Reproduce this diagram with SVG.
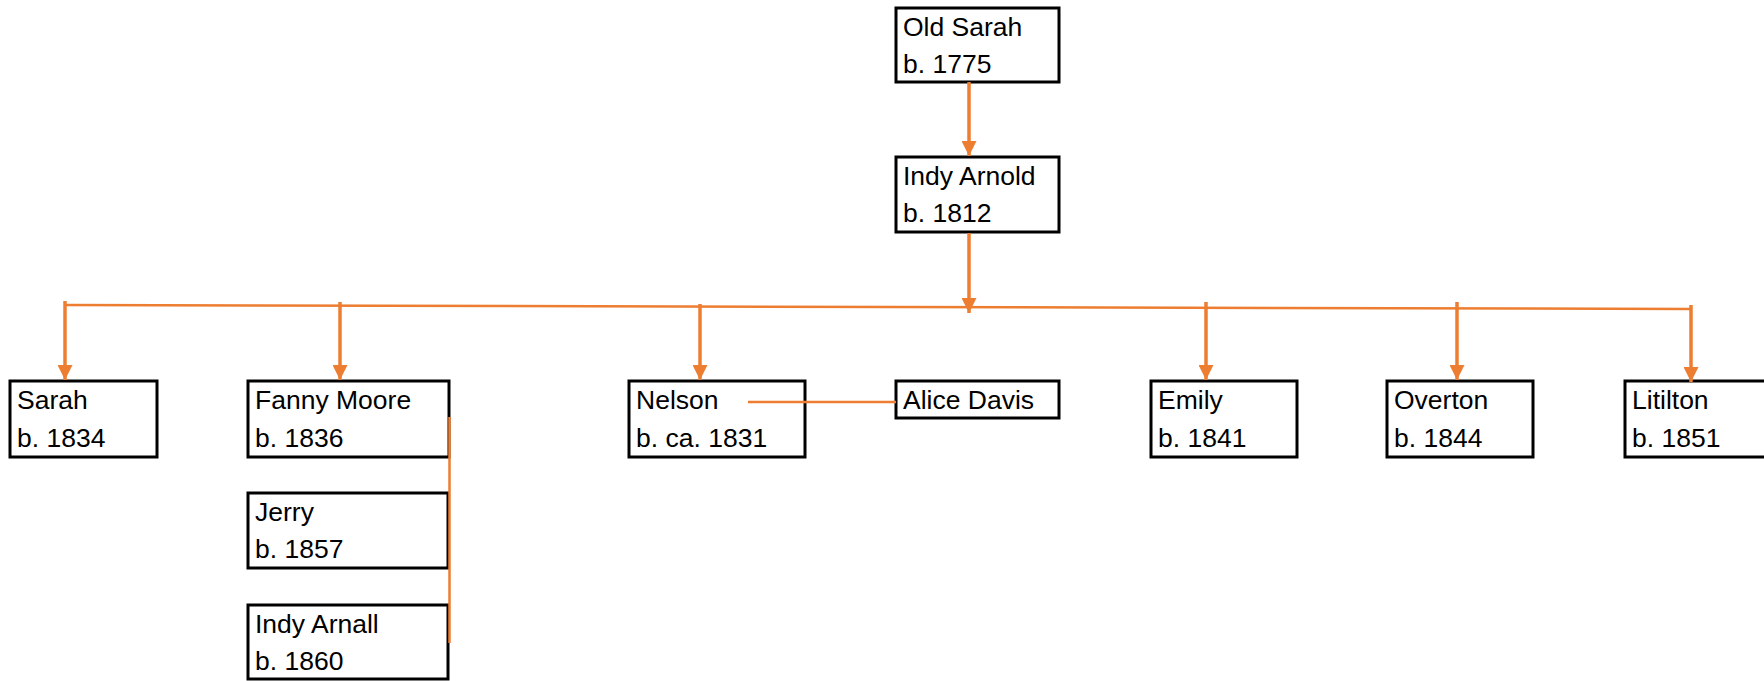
<svg xmlns="http://www.w3.org/2000/svg" width="1764" height="681" viewBox="0 0 1764 681">
<style>
.box{fill:#fff;stroke:#000;stroke-width:3}
.t{font-family:"Liberation Sans",Arial,sans-serif;font-size:26.5px;fill:#000}
.c{stroke:#ED7D31;fill:none}
.arr{stroke-width:3.5}
.ln{stroke-width:2.5}
</style>
<defs>
<marker id="ah" markerUnits="userSpaceOnUse" markerWidth="16" markerHeight="15" refX="15" refY="7.5" orient="auto">
<path d="M0,0 L15,7.5 L0,15 Z" fill="#ED7D31"/>
</marker>
</defs>
<g id="old-sarah"><rect class="box" x="896" y="8" width="163" height="74"/><text class="t" x="903" y="36">Old Sarah</text><text class="t" x="903" y="73">b. 1775</text></g>
<g id="indy-arnold"><rect class="box" x="896" y="157" width="163" height="75"/><text class="t" x="903" y="185">Indy Arnold</text><text class="t" x="903" y="222">b. 1812</text></g>
<g id="sarah"><rect class="box" x="10" y="381" width="147" height="76"/><text class="t" x="17" y="409">Sarah</text><text class="t" x="17" y="447">b. 1834</text></g>
<g id="fanny-moore"><rect class="box" x="248" y="381" width="201" height="76"/><text class="t" x="255" y="409">Fanny Moore</text><text class="t" x="255" y="447">b. 1836</text></g>
<g id="jerry"><rect class="box" x="248" y="493" width="200" height="75"/><text class="t" x="255" y="521">Jerry</text><text class="t" x="255" y="558">b. 1857</text></g>
<g id="indy-arnall"><rect class="box" x="248" y="605" width="200" height="74"/><text class="t" x="255" y="633">Indy Arnall</text><text class="t" x="255" y="670">b. 1860</text></g>
<g id="nelson"><rect class="box" x="629" y="381" width="176" height="76"/><text class="t" x="636" y="409">Nelson</text><text class="t" x="636" y="447">b. ca. 1831</text></g>
<g id="alice-davis"><rect class="box" x="896" y="381" width="163" height="37"/><text class="t" x="903" y="409">Alice Davis</text></g>
<g id="emily"><rect class="box" x="1151" y="381" width="146" height="76"/><text class="t" x="1158" y="409">Emily</text><text class="t" x="1158" y="447">b. 1841</text></g>
<g id="overton"><rect class="box" x="1387" y="381" width="146" height="76"/><text class="t" x="1394" y="409">Overton</text><text class="t" x="1394" y="447">b. 1844</text></g>
<g id="litilton"><rect class="box" x="1625" y="381" width="150" height="76"/><text class="t" x="1632" y="409">Litilton</text><text class="t" x="1632" y="447">b. 1851</text></g>
<g id="connectors">
<line class="c arr" x1="969" y1="82" x2="969" y2="156" marker-end="url(#ah)"/>
<line class="c arr" x1="969" y1="233" x2="969" y2="313" marker-end="url(#ah)"/>
<line class="c ln" x1="65" y1="305" x2="1691" y2="309"/>
<line class="c arr" x1="65" y1="301" x2="65" y2="380" marker-end="url(#ah)"/>
<line class="c arr" x1="340" y1="302" x2="340" y2="380" marker-end="url(#ah)"/>
<line class="c arr" x1="700" y1="304" x2="700" y2="380" marker-end="url(#ah)"/>
<line class="c arr" x1="1206" y1="302" x2="1206" y2="380" marker-end="url(#ah)"/>
<line class="c arr" x1="1457" y1="302" x2="1457" y2="380" marker-end="url(#ah)"/>
<line class="c arr" x1="1691" y1="305" x2="1691" y2="382" marker-end="url(#ah)"/>
<line class="c ln" x1="748" y1="402" x2="896" y2="402"/>
<line class="c ln" x1="449.5" y1="417" x2="449.5" y2="643"/>
</g>
</svg>
